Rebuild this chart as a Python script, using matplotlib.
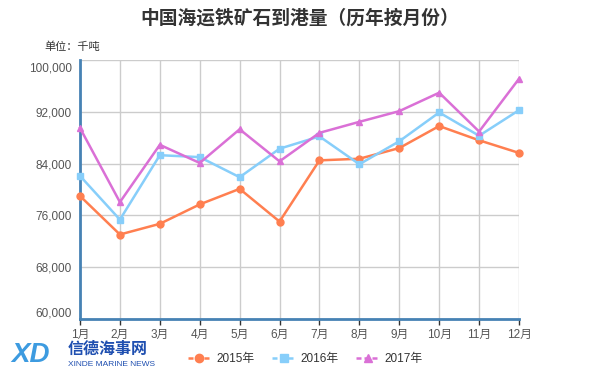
import matplotlib
matplotlib.use("Agg")
import matplotlib.pyplot as plt
from matplotlib.lines import Line2D
from matplotlib.transforms import ScaledTranslation

months = ["1月", "2月", "3月", "4月", "5月", "6月", "7月", "8月", "9月", "10月", "11月", "12月"]
v2015 = [79000, 73050, 74700, 77700, 80100, 75050, 84500, 84750, 86400, 89800, 87600, 85650]
v2016 = [82100, 75350, 85300, 85000, 81900, 86300, 88200, 83900, 87450, 91900, 88300, 92250]
v2017 = [89500, 78050, 86900, 84100, 89300, 84350, 88750, 90450, 92100, 94950, 88950, 97100]
yticks = [60000, 68000, 76000, 84000, 92000, 100000]
series_names = ["2015年", "2016年", "2017年"]
colors = ["#FF7F50", "#87CEFA", "#DA70D6"]
markers = ["o", "s", "^"]

FONT = ["Liberation Sans", "Noto Sans CJK SC", "DejaVu Sans"]
plt.rcParams["font.family"] = FONT

W, H = 599, 378
fig = plt.figure(figsize=(W / 100, H / 100), dpi=100)
ax = fig.add_axes([80 / W, 1 - 319 / H, (519 - 80) / W, (319 - 60) / H])

x = list(range(len(months)))
for vals, c, m, name in zip([v2015, v2016, v2017], colors, markers, series_names):
    ax.plot(x, vals, color=c, marker=m, markersize=5, linewidth=1.8, label=name,
            clip_on=False, zorder=3)

ax.set_xlim(0, len(months) - 1)
ax.set_ylim(60000, 100000)
ax.set_yticks(yticks)
ax.set_yticklabels([f"{v:,}" for v in yticks])
ax.set_xticks(x)
ax.set_xticklabels(months)
ax.grid(True, color="#cccccc", linewidth=1)
ax.set_axisbelow(True)
for s in ["top", "right"]:
    ax.spines[s].set_visible(False)
for s in ["left", "bottom"]:
    ax.spines[s].set_color("#4682B4")
    ax.spines[s].set_linewidth(2)
ax.tick_params(axis="y", length=0, pad=6, labelsize=8.5, labelcolor="#555555")
ax.tick_params(axis="x", length=4, width=1, color="#333333", pad=3, labelsize=8.5,
               labelcolor="#555555")

# echarts keeps the extreme y labels inside the grid
ylabels = ax.get_yticklabels()
ylabels[0].set_transform(ylabels[0].get_transform() + ScaledTranslation(0, 7 / 100, fig.dpi_scale_trans))
ylabels[-1].set_transform(ylabels[-1].get_transform() + ScaledTranslation(0, -7 / 100, fig.dpi_scale_trans))

fig.text(300 / W, 1 - 18 / H, "中国海运铁矿石到港量（历年按月份）", ha="center", va="center",
         fontsize=13.5, fontweight="bold", color="#333333")
fig.text(44 / W, 1 - 47 / H, "单位：千吨", ha="left", va="center", fontsize=8,
         color="#333333")

handles = [Line2D([0], [0], color=c, marker=m, markersize=6, linewidth=1.8, linestyle="--",
                  dashes=(2, 1.2)) for c, m in zip(colors, markers)]
fig.legend(handles, series_names, loc="center", bbox_to_anchor=(305 / W, 1 - 359 / H),
           ncol=3, frameon=False, fontsize=8.5, handlelength=2.0, columnspacing=1.5,
           handletextpad=0.4, labelcolor="#333333")

# logo
fig.text(11 / W, 1 - 355 / H, "XD", ha="left", va="center", fontsize=20, fontweight="bold",
         fontstyle="italic", color="#3d9be0")
fig.text(68 / W, 1 - 349 / H, "信德海事网", ha="left", va="center", fontsize=11.5,
         fontweight="bold", color="#1f4fb0")
fig.text(68 / W, 1 - 364 / H, "XINDE MARINE NEWS", ha="left", va="center", fontsize=6,
         color="#1f4fb0")

fig.savefig("out.png", dpi=100)
